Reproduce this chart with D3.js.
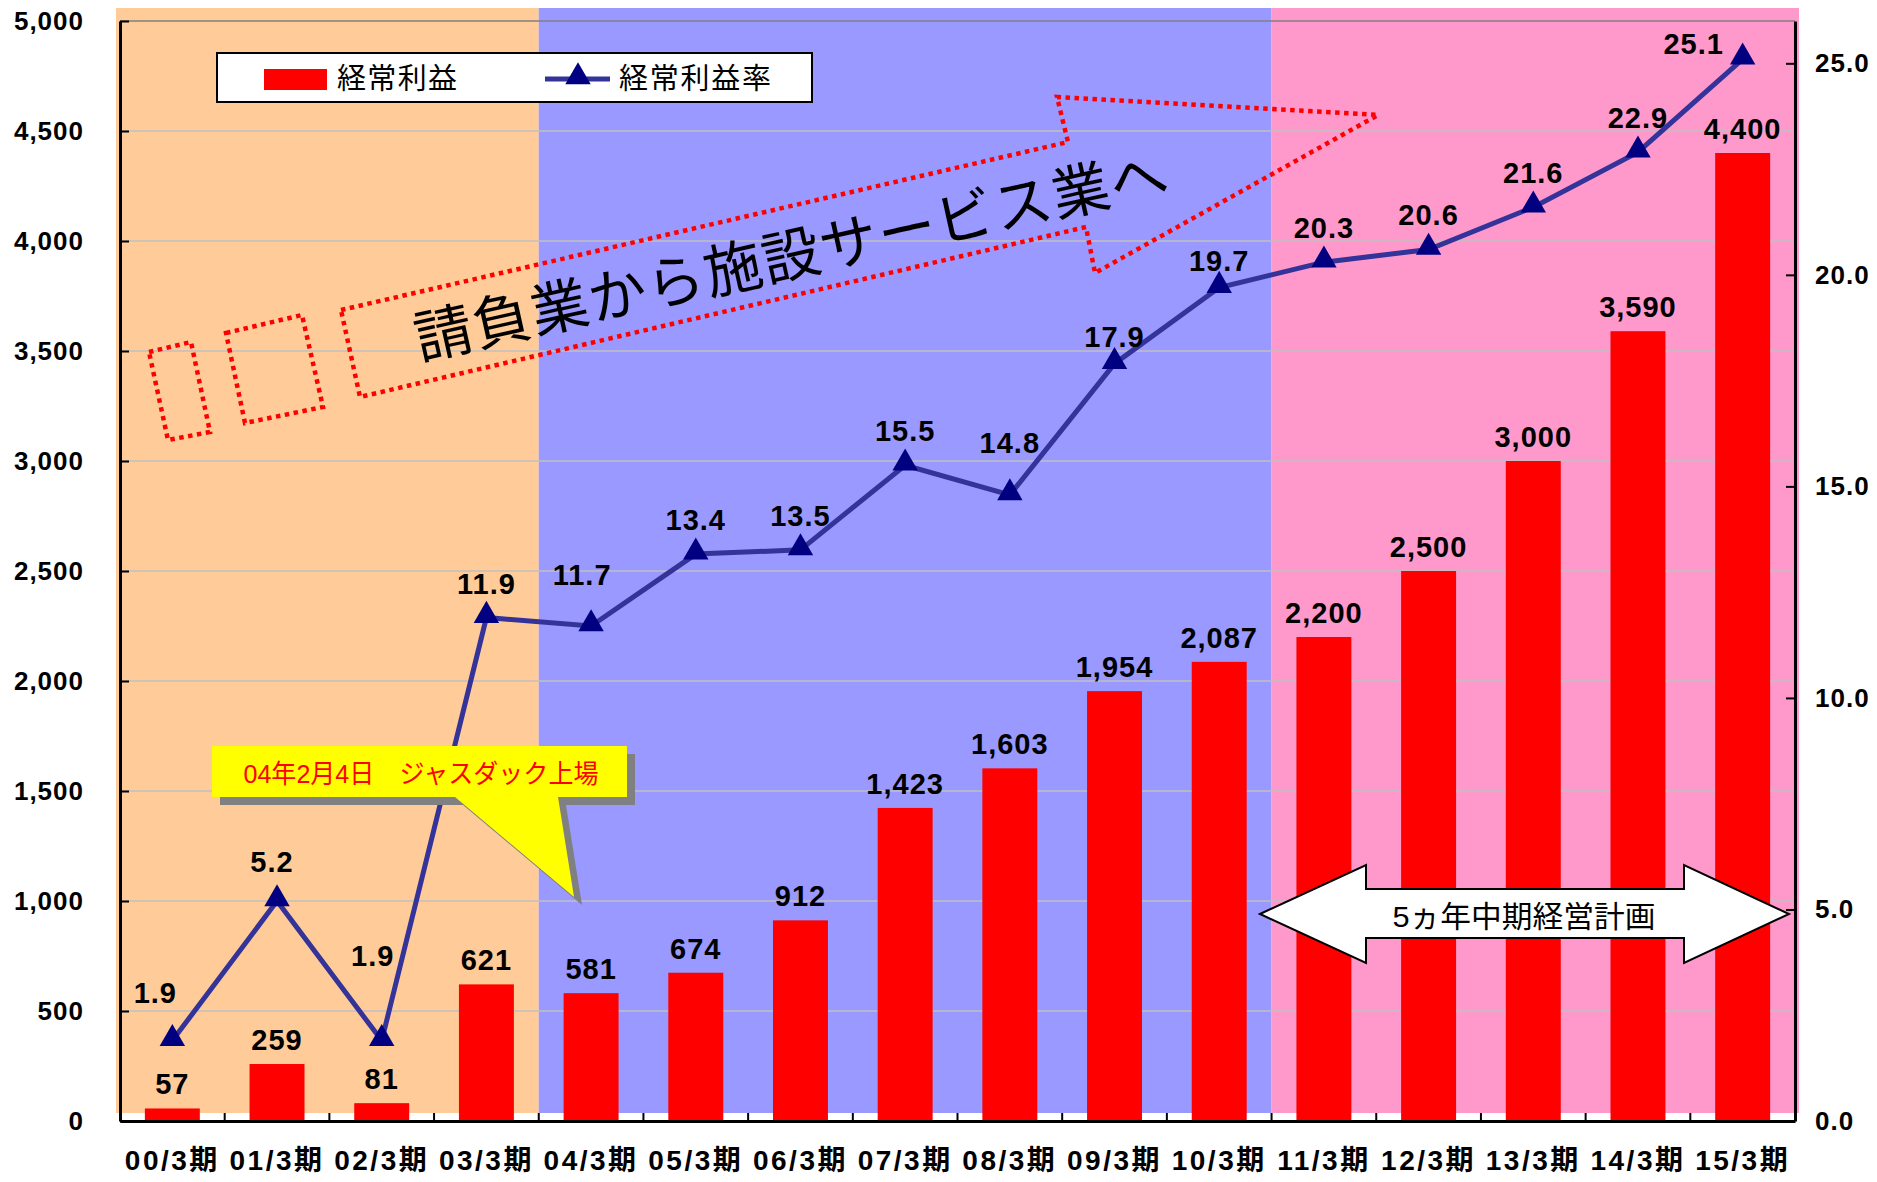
<!DOCTYPE html>
<html>
<head>
<meta charset="utf-8">
<script src="https://cdn.jsdelivr.net/npm/d3@7"></script>
<style>
  body { margin: 0; background: #fff; }
  svg text { font-family: 'Liberation Sans', 'Noto Sans CJK JP', sans-serif; }
</style>
</head>
<body>
<svg id="chart" width="1877" height="1182"></svg>
<script>
var periods = ['00/3期', '01/3期', '02/3期', '03/3期', '04/3期', '05/3期', '06/3期', '07/3期',
  '08/3期', '09/3期', '10/3期', '11/3期', '12/3期', '13/3期', '14/3期', '15/3期'];
var profit = [57, 259, 81, 621, 581, 674, 912, 1423, 1603, 1954, 2087, 2200, 2500, 3000, 3590, 4400];
var profitRate = [1.9, 5.2, 1.9, 11.9, 11.7, 13.4, 13.5, 15.5, 14.8, 17.9, 19.7, 20.3, 20.6, 21.6, 22.9, 25.1];
var leftTicks = [0, 500, 1000, 1500, 2000, 2500, 3000, 3500, 4000, 4500, 5000];
var rightTicks = [0, 5, 10, 15, 20, 25];
// stage spans (first / last period index)
var stages = [[0, 3], [4, 10], [11, 15]];
var seriesNames = ['経常利益', '経常利益率'];
var callText = '04年2月4日　ジャスダック上場';
var arrowText = '請負業から施設サービス業へ';
var planText = '5ヵ年中期経営計画';

var stageColors = ['#FFCC99', '#9999FF', '#FF99CC'];
var pLeft = 120, pRight = 1795, pTop = 21, pBottom = 1121;

var svg = d3.select('#chart');
var x = d3.scaleBand().domain(periods).range([pLeft, pRight]).paddingInner(0.475).paddingOuter(0.2375);
var yL = d3.scaleLinear().domain([0, 5000]).range([pBottom, pTop]);
var yR = d3.scaleLinear().domain([0, 26]).range([pBottom, pTop]);
var step = x.step();
function cx(d) { return x(d) + x.bandwidth() / 2; }
function edge(i) { return pLeft + step * i; }

// stage backgrounds
svg.append('g').selectAll('rect')
  .data(stages)
  .enter().append('rect')
  .attr('x', function(d, i) { return i == 0 ? pLeft - 4 : edge(d[0]); })
  .attr('width', function(d, i) { return (i == 2 ? pRight + 4 : edge(d[1] + 1)) - (i == 0 ? pLeft - 4 : edge(d[0])); })
  .attr('y', 8)
  .attr('height', pBottom - 8 - 8)
  .attr('fill', function(d, i) { return stageColors[i]; });

// gridlines
svg.append('g').selectAll('line')
  .data(leftTicks.filter(function(t) { return t > 0; }))
  .enter().append('line')
  .attr('x1', pLeft).attr('x2', pRight)
  .attr('y1', function(d) { return yL(d); })
  .attr('y2', function(d) { return yL(d); })
  .attr('stroke', function(d) { return d == 5000 ? '#808080' : '#C0C0C0'; })
  .attr('stroke-width', 1.6);

// bars
svg.append('g').selectAll('rect')
  .data(profit)
  .enter().append('rect')
  .attr('x', function(d, i) { return x(periods[i]); })
  .attr('width', x.bandwidth())
  .attr('y', function(d) { return yL(d); })
  .attr('height', function(d) { return pBottom - yL(d); })
  .attr('fill', '#FF0000');

// rate line
var line = d3.line()
  .x(function(d, i) { return cx(periods[i]); })
  .y(function(d) { return yR(d); });
svg.append('path')
  .datum(profitRate)
  .attr('d', line)
  .attr('fill', 'none')
  .attr('stroke', '#333399')
  .attr('stroke-width', 5);
var tri = d3.symbol(d3.symbolTriangle, 280);
svg.append('g').selectAll('path')
  .data(profitRate)
  .enter().append('path')
  .attr('d', tri)
  .attr('transform', function(d, i) { return 'translate(' + cx(periods[i]) + ',' + (yR(d) - 2) + ')'; })
  .attr('fill', '#000080');

// axes
var axisL = d3.axisLeft(yL).tickValues(leftTicks).tickSize(-9).tickSizeOuter(0).tickPadding(36).tickFormat(d3.format(','));
var gL = svg.append('g').attr('transform', 'translate(' + pLeft + ',0)').call(axisL);
var axisR = d3.axisRight(yR).tickValues(rightTicks).tickSize(-9).tickSizeOuter(0).tickPadding(20).tickFormat(d3.format('.1f'));
var gR = svg.append('g').attr('transform', 'translate(' + pRight + ',0)').call(axisR);
var axisB = d3.axisBottom(x).tickSize(0).tickSizeOuter(0).tickPadding(29);
var gB = svg.append('g').attr('transform', 'translate(0,' + pBottom + ')').call(axisB);
gB.selectAll('.boundary')
  .data(d3.range(periods.length + 1))
  .enter().append('line')
  .attr('x1', function(i) { return edge(i); })
  .attr('x2', function(i) { return edge(i); })
  .attr('y1', 0).attr('y2', -8)
  .attr('stroke', '#000').attr('stroke-width', 2);
svg.selectAll('.domain').attr('stroke', '#000').attr('stroke-width', 3);
svg.selectAll('.tick line').attr('stroke', '#000').attr('stroke-width', 2);
svg.selectAll('.tick text')
  .attr('font-size', 26)
  .attr('font-weight', 'bold')
  .attr('fill', '#000');
gL.selectAll('.tick text').attr('letter-spacing', '1px');
gR.selectAll('.tick text').attr('letter-spacing', '1px');
gB.selectAll('.tick text').attr('font-size', 28).attr('letter-spacing', '2.5px').attr('dx', '0px');

// value labels
svg.append('g').selectAll('text')
  .data(profit)
  .enter().append('text')
  .attr('x', function(d, i) { return cx(periods[i]); })
  .attr('y', function(d) { return yL(d) - 14; })
  .attr('text-anchor', 'middle')
  .attr('font-size', 29)
  .attr('font-weight', 'bold')
  .attr('letter-spacing', '1px')
  .text(function(d) { return d3.format(',')(d); });

var nudge = { 0: [-17, -14], 1: [-5, -5], 2: [-9, -51], 4: [-9, -17], 8: [0, -18], 9: [0, 7], 10: [0, 7], 15: [-49, 19] };
svg.append('g').selectAll('text')
  .data(profitRate)
  .enter().append('text')
  .attr('x', function(d, i) { return cx(periods[i]) + (nudge[i] ? nudge[i][0] : 0); })
  .attr('y', function(d, i) { return yR(d) - 24 + (nudge[i] ? nudge[i][1] : 0); })
  .attr('text-anchor', 'middle')
  .attr('font-size', 29)
  .attr('font-weight', 'bold')
  .attr('letter-spacing', '1px')
  .text(function(d) { return d3.format('.1f')(d); });

// legend
var lg = svg.append('g');
lg.append('rect').attr('x', 217).attr('y', 53).attr('width', 595).attr('height', 49)
  .attr('fill', '#fff').attr('stroke', '#000').attr('stroke-width', 2);
lg.append('rect').attr('x', 264).attr('y', 69).attr('width', 63).attr('height', 21).attr('fill', '#FF0000');
lg.append('text').attr('x', 337).attr('y', 79).attr('dominant-baseline', 'central')
  .attr('font-size', 29).attr('textLength', 120).text(seriesNames[0]);
lg.append('line').attr('x1', 545).attr('x2', 610).attr('y1', 79).attr('y2', 79)
  .attr('stroke', '#333399').attr('stroke-width', 5);
lg.append('path').attr('d', tri).attr('transform', 'translate(578,77)').attr('fill', '#000080');
lg.append('text').attr('x', 619).attr('y', 79).attr('dominant-baseline', 'central')
  .attr('font-size', 29).attr('textLength', 152).text(seriesNames[1]);

// dotted arrow annotation
var dotted = function(pts) {
  svg.append('polygon')
    .attr('points', pts.map(function(p) { return p.join(','); }).join(' '))
    .attr('fill', 'none')
    .attr('stroke', '#FF0000')
    .attr('stroke-width', 4.5)
    .attr('stroke-dasharray', '4.5,4.5');
};
dotted([[149, 352], [191, 342], [210, 432], [168, 440]]);
dotted([[226, 333], [302, 315], [323, 407], [245, 423]]);
dotted([[341, 310], [1068, 142], [1057, 97], [1378, 115], [1095, 273], [1086, 227], [360, 397]]);
svg.append('text')
  .attr('transform', 'translate(791,256) rotate(-12.6)')
  .attr('text-anchor', 'middle')
  .attr('dominant-baseline', 'central')
  .attr('font-size', 58)
  .attr('textLength', 770)
  .attr('fill', '#000')
  .text(arrowText);

// listing callout
var callout = [[212, 746], [627, 746], [627, 797], [558, 797], [574, 897], [455, 797], [212, 797]];
svg.append('polygon')
  .attr('points', callout.map(function(p) { return (p[0] + 8) + ',' + (p[1] + 8); }).join(' '))
  .attr('fill', '#808080');
svg.append('polygon')
  .attr('points', callout.map(function(p) { return p.join(','); }).join(' '))
  .attr('fill', '#FFFF00');
svg.append('text')
  .attr('x', 421).attr('y', 774)
  .attr('text-anchor', 'middle')
  .attr('dominant-baseline', 'central')
  .attr('font-size', 26)
  .attr('textLength', 355)
  .attr('lengthAdjust', 'spacingAndGlyphs')
  .attr('fill', '#FF0000')
  .text(callText);

// mid-term plan double arrow
var dbl = [[1260, 914], [1366, 865], [1366, 889], [1684, 889], [1684, 865], [1789, 914],
  [1684, 963], [1684, 938], [1366, 938], [1366, 963]];
svg.append('polygon')
  .attr('points', dbl.map(function(p) { return p.join(','); }).join(' '))
  .attr('fill', '#fff')
  .attr('stroke', '#000')
  .attr('stroke-width', 2);
svg.append('text')
  .attr('x', 1524).attr('y', 916)
  .attr('text-anchor', 'middle')
  .attr('dominant-baseline', 'central')
  .attr('font-size', 30)
  .attr('textLength', 263)
  .attr('lengthAdjust', 'spacingAndGlyphs')
  .text(planText);
</script>
</body>
</html>
